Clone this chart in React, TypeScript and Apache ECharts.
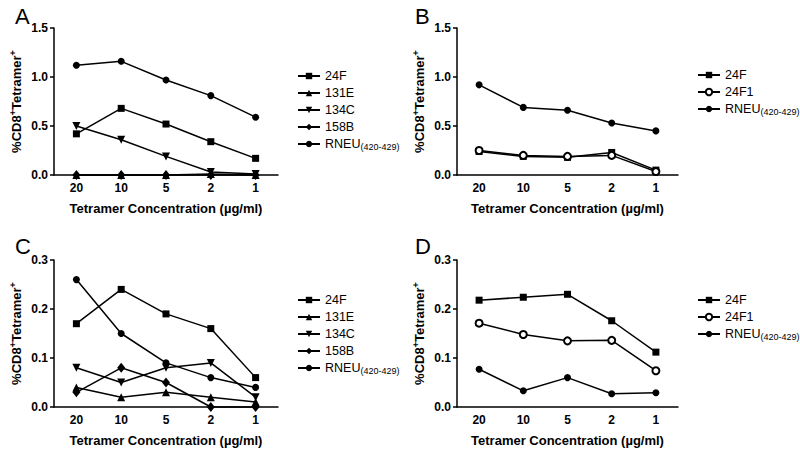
import React, { useEffect, useRef } from 'react';
import * as echarts from 'echarts';

const concentrations = ['20', '10', '5', '2', '1'];

// Panel A
const a24F = [0.42, 0.68, 0.52, 0.34, 0.17];
const a131E = [0, 0, 0, 0.01, 0];
const a134C = [0.5, 0.36, 0.19, 0.03, 0.01];
const a158B = [0, 0, 0, 0, 0];
const aRNEU = [1.12, 1.16, 0.97, 0.81, 0.59];

// Panel B
const b24F = [0.24, 0.19, 0.18, 0.23, 0.05];
const b24F1 = [0.25, 0.2, 0.19, 0.2, 0.035];
const bRNEU = [0.92, 0.69, 0.66, 0.53, 0.45];

// Panel C
const c24F = [0.17, 0.24, 0.19, 0.16, 0.06];
const c131E = [0.04, 0.02, 0.03, 0.02, 0.01];
const c134C = [0.08, 0.05, 0.08, 0.09, 0.02];
const c158B = [0.03, 0.08, 0.05, 0, 0];
const cRNEU = [0.26, 0.15, 0.09, 0.06, 0.04];

// Panel D
const d24F = [0.218, 0.224, 0.23, 0.176, 0.112];
const d24F1 = [0.171, 0.148, 0.135, 0.136, 0.074];
const dRNEU = [0.077, 0.033, 0.06, 0.027, 0.029];

const yTicksTop = [0, 0.5, 1.0, 1.5];
const yTicksBottom = [0, 0.1, 0.2, 0.3];

const FONT = "'Liberation Sans', Arial, Helvetica, sans-serif";

const markers: Record<string, { symbol: string; size: any; rotate?: number }> = {
  '24F': { symbol: 'rect', size: 7 },
  '131E': { symbol: 'triangle', size: 8 },
  '134C': { symbol: 'triangle', size: 8, rotate: 180 },
  '158B': { symbol: 'diamond', size: [8, 10] },
  RNEU: { symbol: 'circle', size: 7 },
  '24F1': { symbol: 'emptyCircle', size: 7 },
};

const panels = [
  {
    key: 'A', grid: { left: 54, top: 28, width: 224, height: 147 }, ticks: yTicksTop,
    legend: { left: 292, top: 64 }, letter: { x: 15, y: 5 },
    series: [['24F', a24F], ['131E', a131E], ['134C', a134C], ['158B', a158B], ['RNEU', aRNEU]],
  },
  {
    key: 'B', grid: { left: 457, top: 28, width: 221, height: 147 }, ticks: yTicksTop,
    legend: { left: 692, top: 63 }, letter: { x: 415, y: 5 },
    series: [['24F', b24F], ['24F1', b24F1], ['RNEU', bRNEU]],
  },
  {
    key: 'C', grid: { left: 54, top: 260, width: 224, height: 147 }, ticks: yTicksBottom,
    legend: { left: 292, top: 288 }, letter: { x: 15, y: 235 },
    series: [['24F', c24F], ['131E', c131E], ['134C', c134C], ['158B', c158B], ['RNEU', cRNEU]],
  },
  {
    key: 'D', grid: { left: 457, top: 260, width: 221, height: 147 }, ticks: yTicksBottom,
    legend: { left: 692, top: 288 }, letter: { x: 415, y: 235 },
    series: [['24F', d24F], ['24F1', d24F1], ['RNEU', dRNEU]],
  },
];

export default function App() {
  const ref = useRef<HTMLDivElement>(null);
  useEffect(() => {
    if (!ref.current) return;
    const chart = echarts.init(ref.current, null, { renderer: 'svg' });
    const grid: any[] = [];
    const xAxis: any[] = [];
    const yAxis: any[] = [];
    const series: any[] = [];
    const legend: any[] = [];
    const graphic: any[] = [];
    panels.forEach((p, i) => {
      grid.push({ ...p.grid, containLabel: false });
      xAxis.push({
        type: 'category', gridIndex: i, data: concentrations, boundaryGap: true,
        axisLine: { lineStyle: { color: '#000', width: 1.5 } },
        axisTick: { show: false },
        axisLabel: { color: '#000', fontWeight: 'bold', fontSize: 12, fontFamily: FONT, margin: 7 },
        name: 'Tetramer Concentration (µg/ml)', nameLocation: 'middle', nameGap: 27,
        nameTextStyle: { color: '#000', fontWeight: 'bold', fontSize: 13, fontFamily: FONT },
      });
      const t = p.ticks;
      yAxis.push({
        type: 'value', gridIndex: i, min: t[0], max: t[t.length - 1], interval: t[1] - t[0],
        axisLine: { show: true, lineStyle: { color: '#000', width: 1.5 } },
        axisTick: { show: true, length: 4, lineStyle: { color: '#000', width: 1.5 } },
        splitLine: { show: false },
        axisLabel: { color: '#000', fontWeight: 'bold', fontSize: 12, fontFamily: FONT, margin: 6, formatter: (v: number) => v.toFixed(1) },
        name: '%CD8{sup|+}Tetramer{sup|+}', nameLocation: 'middle', nameGap: 29, nameRotate: 90,
        nameTextStyle: {
          color: '#000', fontWeight: 'bold', fontSize: 13, fontFamily: FONT,
          rich: { sup: { fontSize: 9, fontWeight: 'bold', fontFamily: FONT, color: '#000', padding: [0, 0, 8, 0] } },
        },
      });
      const names: string[] = [];
      p.series.forEach(([label, data]: any) => {
        const m = markers[label];
        const name = p.key + ':' + label;
        names.push(name);
        series.push({
          type: 'line', name, xAxisIndex: i, yAxisIndex: i, data,
          symbol: m.symbol, symbolSize: m.size, symbolRotate: m.rotate || 0,
          showAllSymbol: true, clip: false,
          lineStyle: { color: '#000', width: 1.5 },
          itemStyle: { color: '#000', borderColor: '#000', borderWidth: label === '24F1' ? 1.3 : 0 },
        });
      });
      legend.push({
        data: names, orient: 'vertical', left: p.legend.left, top: p.legend.top,
        itemWidth: 22, itemHeight: 8, itemGap: 3, selectedMode: false,
        formatter: (name: string) => {
          const lbl = name.split(':')[1];
          return lbl === 'RNEU' ? 'RNEU{sub|(420-429)}' : lbl;
        },
        textStyle: {
          color: '#000', fontSize: 12.5, fontFamily: FONT, lineHeight: 14,
          rich: { sub: { fontSize: 9, fontFamily: FONT, color: '#000', padding: [6, 0, 0, 0] } },
        },
      });
      graphic.push({
        type: 'text', left: p.letter.x, top: p.letter.y,
        style: { text: p.key, fontSize: 22, fontFamily: FONT, fill: '#000' },
      });
    });
    chart.setOption({
      animation: false,
      backgroundColor: '#fff',
      grid, xAxis, yAxis, series, legend, graphic,
    });
    return () => chart.dispose();
  }, []);
  return <div ref={ref} style={{ position: 'fixed', left: 0, top: 0, width: 800, height: 452 }} />;
}
